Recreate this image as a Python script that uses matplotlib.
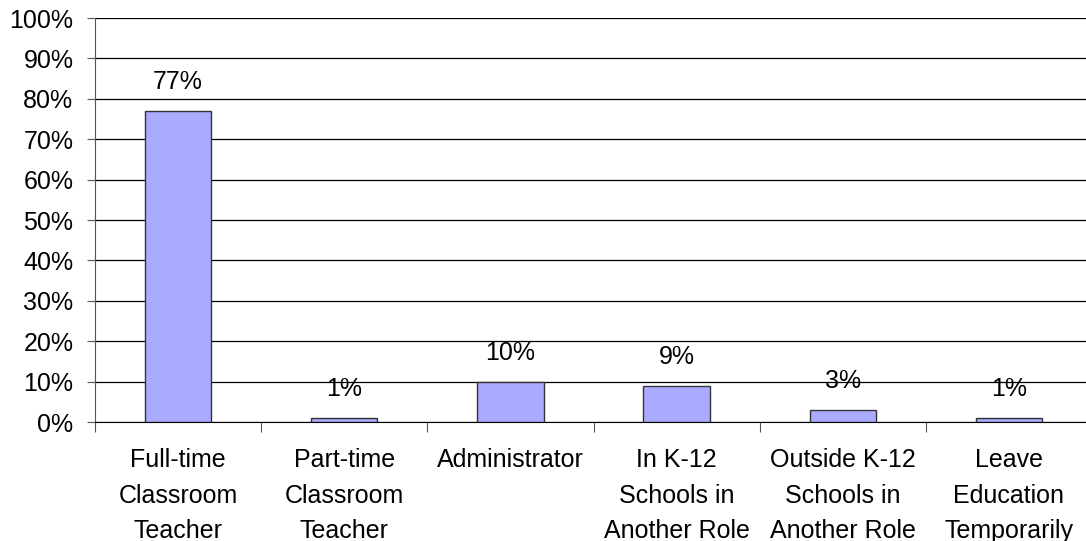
import matplotlib
matplotlib.use("Agg")
import matplotlib.pyplot as plt
import numpy as np

categories = ["Full-time\nClassroom\nTeacher", "Part-time\nClassroom\nTeacher", "Administrator",
              "In K-12\nSchools in\nAnother Role", "Outside K-12\nSchools in\nAnother Role",
              "Leave\nEducation\nTemporarily"]
values = [77, 1, 10, 9, 3, 1]
value_labels = ["77%", "1%", "10%", "9%", "3%", "1%"]
yticks = list(range(0, 101, 10))
ytick_labels = [f"{t}%" for t in yticks]

FS = 18
plt.rcParams['font.family'] = ['Liberation Sans', 'DejaVu Sans']
fig = plt.figure(figsize=(10.86, 5.41), dpi=100)
ax = fig.add_axes([95/1086, 1-422/541, 997/1086, 404/541])

x = np.arange(len(categories))
ax.bar(x, values, width=0.4, color="#AAAAFF", edgecolor="#333333", linewidth=1, zorder=3)
for xi, v, lab in zip(x, values, value_labels):
    ax.annotate(lab, (xi, v), xytext=(0, 12), textcoords="offset points",
                ha="center", va="bottom", fontsize=FS)

ax.set_xlim(-0.5, len(categories) - 0.5)
ax.set_ylim(0, 100)
ax.set_yticks(yticks)
ax.set_yticklabels(ytick_labels, fontsize=FS)
ax.yaxis.grid(True, color="black", linewidth=0.9, zorder=0)
ax.set_axisbelow(True)

ax.set_xticks(np.arange(-0.5, len(categories), 1.0))
ax.set_xticklabels([])
ax.set_xticks(x, minor=True)
ax.set_xticklabels(categories, minor=True, fontsize=FS, linespacing=1.59)
ax.tick_params(axis="x", which="minor", length=0, pad=19)
ax.tick_params(axis="x", which="major", length=7, color="#555555", direction="out")
ax.tick_params(axis="y", length=6, color="#555555", direction="out", pad=9.5)

for s in ["top", "right"]:
    ax.spines[s].set_visible(False)
ax.spines["left"].set_color("#555555")
ax.spines["bottom"].set_color("black")

fig.savefig("out.png", dpi=100)
